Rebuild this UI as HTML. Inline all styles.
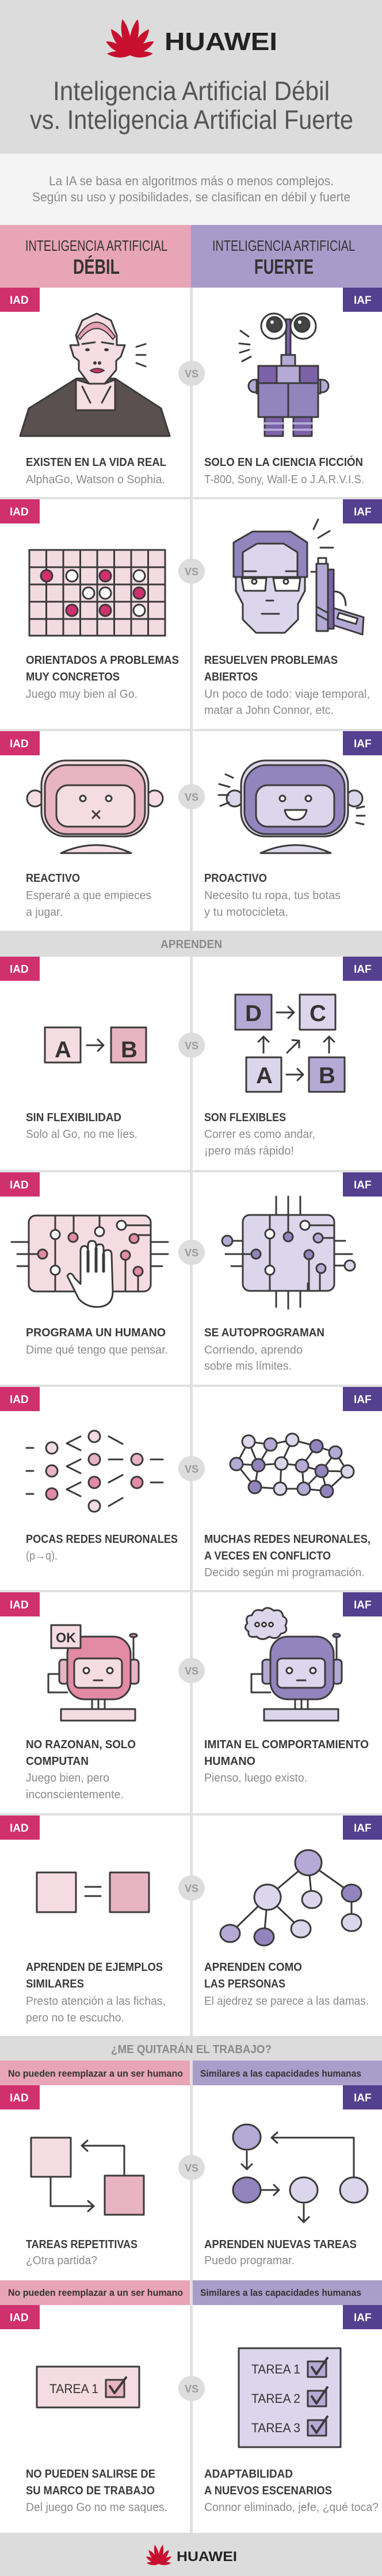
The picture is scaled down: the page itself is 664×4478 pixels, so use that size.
<!DOCTYPE html>
<html><head><meta charset="utf-8"><style>
html,body{margin:0;padding:0;background:#fff}
svg{display:block}
text{font-family:"Liberation Sans",sans-serif}
.t{font-weight:bold;fill:#3a3a3a;font-size:20px}
.s{fill:#8a8a8a;font-size:20px}
.bd{font-weight:bold;fill:#fff;font-size:19px}
.vs{font-weight:bold;fill:#9a9a9a;font-size:18px}
</style></head><body>
<svg width="664" height="4478" viewBox="0 0 664 4478" xmlns="http://www.w3.org/2000/svg">
<defs>
<g id="logo">
<path d="M0,0 C-9,-20 -9,-48 0,-64 C9,-48 9,-20 0,0Z" transform="rotate(-12)" fill="#c8102e"/>
<path d="M0,0 C-9,-20 -9,-48 0,-64 C9,-48 9,-20 0,0Z" transform="rotate(12)" fill="#c8102e"/>
<path d="M0,0 C-9,-18 -9,-42 0,-56 C9,-42 9,-18 0,0Z" transform="rotate(-36)" fill="#c8102e"/>
<path d="M0,0 C-9,-18 -9,-42 0,-56 C9,-42 9,-18 0,0Z" transform="rotate(36)" fill="#c8102e"/>
<path d="M0,0 C-8,-16 -8,-36 0,-48 C8,-36 8,-16 0,0Z" transform="rotate(-60)" fill="#c8102e"/>
<path d="M0,0 C-8,-16 -8,-36 0,-48 C8,-36 8,-16 0,0Z" transform="rotate(60)" fill="#c8102e"/>
<path d="M0,0 C-7,-12 -7,-28 0,-40 C7,-28 7,-12 0,0Z" transform="rotate(-86)" fill="#c8102e"/>
<path d="M0,0 C-7,-12 -7,-28 0,-40 C7,-28 7,-12 0,0Z" transform="rotate(86)" fill="#c8102e"/>
</g>
</defs>

<!-- header -->
<rect x="0" y="0" width="664" height="267" fill="#dcdcdc"/>
<use href="#logo" transform="translate(226,96)"/>
<text x="286" y="87" font-size="44" font-weight="bold" fill="#222" textLength="196" lengthAdjust="spacingAndGlyphs">HUAWEI</text>
<text x="92" y="174" font-size="46" fill="#555" textLength="481" lengthAdjust="spacingAndGlyphs">Inteligencia Artificial Débil</text>
<text x="52" y="224" font-size="46" fill="#555" textLength="562" lengthAdjust="spacingAndGlyphs">vs. Inteligencia Artificial Fuerte</text>
<rect x="0" y="267" width="664" height="124" fill="#f4f4f4"/>
<text x="85" y="322" font-size="22" fill="#8a8a8a" textLength="495" lengthAdjust="spacingAndGlyphs">La IA se basa en algoritmos más o menos complejos.</text>
<text x="56" y="350" font-size="22" fill="#8a8a8a" textLength="553" lengthAdjust="spacingAndGlyphs">Según su uso y posibilidades, se clasifican en débil y fuerte</text>
<rect x="0" y="391" width="332" height="109" fill="#e8a5b5"/>
<rect x="332" y="391" width="332" height="109" fill="#a89bc9"/>
<text x="44" y="436" font-size="26" fill="#333" textLength="247" lengthAdjust="spacingAndGlyphs">INTELIGENCIA ARTIFICIAL</text>
<text x="127" y="476" font-size="36" font-weight="bold" fill="#333" textLength="81" lengthAdjust="spacingAndGlyphs">DÉBIL</text>
<text x="369" y="436" font-size="26" fill="#333" textLength="248" lengthAdjust="spacingAndGlyphs">INTELIGENCIA ARTIFICIAL</text>
<text x="442" y="476" font-size="36" font-weight="bold" fill="#333" textLength="103" lengthAdjust="spacingAndGlyphs">FUERTE</text>

<!-- divider & separators -->
<rect x="330" y="500" width="5" height="3903" fill="#e0e0e0"/>
<g fill="#e0e0e0">
<rect x="0" y="864" width="664" height="4"/>
<rect x="0" y="1267" width="664" height="4"/>
<rect x="0" y="2034" width="664" height="4"/>
<rect x="0" y="2407" width="664" height="4"/>
<rect x="0" y="2764" width="664" height="4"/>
<rect x="0" y="3152" width="664" height="4"/>
</g>

<!-- bars -->
<rect x="0" y="1618" width="664" height="45" fill="#dcdcdc"/>
<text x="279" y="1648" font-size="20" font-weight="bold" fill="#8a8a8a" textLength="107" lengthAdjust="spacingAndGlyphs">APRENDEN</text>
<rect x="0" y="3539" width="664" height="43" fill="#dcdcdc"/>
<text x="193" y="3569" font-size="20" font-weight="bold" fill="#8a8a8a" textLength="279" lengthAdjust="spacingAndGlyphs">¿ME QUITARÁN EL TRABAJO?</text>
<rect x="0" y="3582" width="330" height="43" fill="#e8a5b7"/>
<rect x="335" y="3582" width="329" height="43" fill="#a99dca"/>
<text x="14" y="3610" font-size="17" font-weight="bold" fill="#333" textLength="304" lengthAdjust="spacingAndGlyphs">No pueden reemplazar a un ser humano</text>
<text x="348" y="3610" font-size="17" font-weight="bold" fill="#333" textLength="280" lengthAdjust="spacingAndGlyphs">Similares a las capacidades humanas</text>
<rect x="0" y="3964" width="330" height="43" fill="#e8a5b7"/>
<rect x="335" y="3964" width="329" height="43" fill="#a99dca"/>
<text x="14" y="3991" font-size="17" font-weight="bold" fill="#333" textLength="304" lengthAdjust="spacingAndGlyphs">No pueden reemplazar a un ser humano</text>
<text x="348" y="3991" font-size="17" font-weight="bold" fill="#333" textLength="280" lengthAdjust="spacingAndGlyphs">Similares a las capacidades humanas</text>

<!-- badges -->
<g>
<rect x="0" y="500" width="69" height="42" fill="#d1306e"/><rect x="596" y="500" width="68" height="42" fill="#553f8f"/>
<rect x="0" y="868" width="69" height="42" fill="#d1306e"/><rect x="596" y="868" width="68" height="42" fill="#553f8f"/>
<rect x="0" y="1271" width="69" height="42" fill="#d1306e"/><rect x="596" y="1271" width="68" height="42" fill="#553f8f"/>
<rect x="0" y="1663" width="69" height="42" fill="#d1306e"/><rect x="596" y="1663" width="68" height="42" fill="#553f8f"/>
<rect x="0" y="2038" width="69" height="42" fill="#d1306e"/><rect x="596" y="2038" width="68" height="42" fill="#553f8f"/>
<rect x="0" y="2411" width="69" height="42" fill="#d1306e"/><rect x="596" y="2411" width="68" height="42" fill="#553f8f"/>
<rect x="0" y="2768" width="69" height="42" fill="#d1306e"/><rect x="596" y="2768" width="68" height="42" fill="#553f8f"/>
<rect x="0" y="3156" width="69" height="42" fill="#d1306e"/><rect x="596" y="3156" width="68" height="42" fill="#553f8f"/>
<rect x="0" y="3625" width="69" height="42" fill="#d1306e"/><rect x="596" y="3625" width="68" height="42" fill="#553f8f"/>
<rect x="0" y="4007" width="69" height="42" fill="#d1306e"/><rect x="596" y="4007" width="68" height="42" fill="#553f8f"/>
</g>
<g class="bd">
<text class="bd" x="17" y="528">IAD</text><text class="bd" x="615" y="528">IAF</text>
<text class="bd" x="17" y="896">IAD</text><text class="bd" x="615" y="896">IAF</text>
<text class="bd" x="17" y="1299">IAD</text><text class="bd" x="615" y="1299">IAF</text>
<text class="bd" x="17" y="1691">IAD</text><text class="bd" x="615" y="1691">IAF</text>
<text class="bd" x="17" y="2066">IAD</text><text class="bd" x="615" y="2066">IAF</text>
<text class="bd" x="17" y="2439">IAD</text><text class="bd" x="615" y="2439">IAF</text>
<text class="bd" x="17" y="2796">IAD</text><text class="bd" x="615" y="2796">IAF</text>
<text class="bd" x="17" y="3184">IAD</text><text class="bd" x="615" y="3184">IAF</text>
<text class="bd" x="17" y="3653">IAD</text><text class="bd" x="615" y="3653">IAF</text>
<text class="bd" x="17" y="4035">IAD</text><text class="bd" x="615" y="4035">IAF</text>
</g>

<!-- VS circles -->
<g fill="#dddddd">
<ellipse cx="333" cy="649" rx="23" ry="22"/><ellipse cx="333" cy="993" rx="23" ry="22"/>
<ellipse cx="333" cy="1385" rx="23" ry="22"/><ellipse cx="333" cy="1817" rx="23" ry="22"/>
<ellipse cx="333" cy="2177" rx="23" ry="22"/><ellipse cx="333" cy="2553" rx="23" ry="22"/>
<ellipse cx="333" cy="2904" rx="23" ry="22"/><ellipse cx="333" cy="3282" rx="23" ry="22"/>
<ellipse cx="333" cy="3768" rx="23" ry="22"/><ellipse cx="333" cy="4152" rx="23" ry="22"/>
</g>
<g class="vs" text-anchor="middle">
<text class="vs" x="333" y="656">VS</text><text class="vs" x="333" y="1000">VS</text>
<text class="vs" x="333" y="1392">VS</text><text class="vs" x="333" y="1824">VS</text>
<text class="vs" x="333" y="2184">VS</text><text class="vs" x="333" y="2560">VS</text>
<text class="vs" x="333" y="2911">VS</text><text class="vs" x="333" y="3289">VS</text>
<text class="vs" x="333" y="3775">VS</text><text class="vs" x="333" y="4159">VS</text>
</g>

<!-- row texts -->
<g lengthAdjust="spacingAndGlyphs">
<text class="t" x="45" y="810" textLength="244" lengthAdjust="spacingAndGlyphs">EXISTEN EN LA VIDA REAL</text>
<text class="s" x="45" y="840" textLength="242" lengthAdjust="spacingAndGlyphs">AlphaGo, Watson o Sophia.</text>
<text class="t" x="355" y="810" textLength="276" lengthAdjust="spacingAndGlyphs">SOLO EN LA CIENCIA FICCIÓN</text>
<text class="s" x="355" y="840" textLength="278" lengthAdjust="spacingAndGlyphs">T-800, Sony, Wall-E o J.A.R.V.I.S.</text>

<text class="t" x="45" y="1154" textLength="266" lengthAdjust="spacingAndGlyphs">ORIENTADOS A PROBLEMAS</text>
<text class="t" x="45" y="1183" textLength="163" lengthAdjust="spacingAndGlyphs">MUY CONCRETOS</text>
<text class="s" x="45" y="1213" textLength="194" lengthAdjust="spacingAndGlyphs">Juego muy bien al Go.</text>
<text class="t" x="355" y="1154" textLength="232" lengthAdjust="spacingAndGlyphs">RESUELVEN PROBLEMAS</text>
<text class="t" x="355" y="1183" textLength="93" lengthAdjust="spacingAndGlyphs">ABIERTOS</text>
<text class="s" x="355" y="1213" textLength="288" lengthAdjust="spacingAndGlyphs">Un poco de todo: viaje temporal,</text>
<text class="s" x="355" y="1241" textLength="225" lengthAdjust="spacingAndGlyphs">matar a John Connor, etc.</text>

<text class="t" x="45" y="1533" textLength="94" lengthAdjust="spacingAndGlyphs">REACTIVO</text>
<text class="s" x="45" y="1563" textLength="218" lengthAdjust="spacingAndGlyphs">Esperaré a que empieces</text>
<text class="s" x="45" y="1592" textLength="64" lengthAdjust="spacingAndGlyphs">a jugar.</text>
<text class="t" x="355" y="1533" textLength="109" lengthAdjust="spacingAndGlyphs">PROACTIVO</text>
<text class="s" x="355" y="1563" textLength="237" lengthAdjust="spacingAndGlyphs">Necesito tu ropa, tus botas</text>
<text class="s" x="355" y="1592" textLength="146" lengthAdjust="spacingAndGlyphs">y tu motocicleta.</text>

<text class="t" x="45" y="1949" textLength="166" lengthAdjust="spacingAndGlyphs">SIN FLEXIBILIDAD</text>
<text class="s" x="45" y="1978" textLength="194" lengthAdjust="spacingAndGlyphs">Solo al Go, no me líes.</text>
<text class="t" x="355" y="1949" textLength="142" lengthAdjust="spacingAndGlyphs">SON FLEXIBLES</text>
<text class="s" x="355" y="1978" textLength="193" lengthAdjust="spacingAndGlyphs">Correr es como andar,</text>
<text class="s" x="355" y="2007" textLength="156" lengthAdjust="spacingAndGlyphs">¡pero más rápido!</text>

<text class="t" x="45" y="2323" textLength="243" lengthAdjust="spacingAndGlyphs">PROGRAMA UN HUMANO</text>
<text class="s" x="45" y="2353" textLength="247" lengthAdjust="spacingAndGlyphs">Dime qué tengo que pensar.</text>
<text class="t" x="355" y="2323" textLength="209" lengthAdjust="spacingAndGlyphs">SE AUTOPROGRAMAN</text>
<text class="s" x="355" y="2353" textLength="171" lengthAdjust="spacingAndGlyphs">Corriendo, aprendo</text>
<text class="s" x="355" y="2381" textLength="152" lengthAdjust="spacingAndGlyphs">sobre mis límites.</text>

<text class="t" x="45" y="2682" textLength="264" lengthAdjust="spacingAndGlyphs">POCAS REDES NEURONALES</text>
<text class="s" x="45" y="2711" textLength="55" lengthAdjust="spacingAndGlyphs">(p→q).</text>
<text class="t" x="355" y="2682" textLength="289" lengthAdjust="spacingAndGlyphs">MUCHAS REDES NEURONALES,</text>
<text class="t" x="355" y="2711" textLength="220" lengthAdjust="spacingAndGlyphs">A VECES EN CONFLICTO</text>
<text class="s" x="355" y="2740" textLength="279" lengthAdjust="spacingAndGlyphs">Decido según mi programación.</text>

<text class="t" x="45" y="3039" textLength="191" lengthAdjust="spacingAndGlyphs">NO RAZONAN, SOLO</text>
<text class="t" x="45" y="3068" textLength="109" lengthAdjust="spacingAndGlyphs">COMPUTAN</text>
<text class="s" x="45" y="3097" textLength="145" lengthAdjust="spacingAndGlyphs">Juego bien, pero</text>
<text class="s" x="45" y="3126" textLength="170" lengthAdjust="spacingAndGlyphs">inconscientemente.</text>
<text class="t" x="355" y="3039" textLength="286" lengthAdjust="spacingAndGlyphs">IMITAN EL COMPORTAMIENTO</text>
<text class="t" x="355" y="3068" textLength="89" lengthAdjust="spacingAndGlyphs">HUMANO</text>
<text class="s" x="355" y="3097" textLength="179" lengthAdjust="spacingAndGlyphs">Pienso, luego existo.</text>

<text class="t" x="45" y="3426" textLength="238" lengthAdjust="spacingAndGlyphs">APRENDEN DE EJEMPLOS</text>
<text class="t" x="45" y="3455" textLength="101" lengthAdjust="spacingAndGlyphs">SIMILARES</text>
<text class="s" x="45" y="3485" textLength="243" lengthAdjust="spacingAndGlyphs">Presto atención a las fichas,</text>
<text class="s" x="45" y="3514" textLength="171" lengthAdjust="spacingAndGlyphs">pero no te escucho.</text>
<text class="t" x="355" y="3426" textLength="170" lengthAdjust="spacingAndGlyphs">APRENDEN COMO</text>
<text class="t" x="355" y="3455" textLength="141" lengthAdjust="spacingAndGlyphs">LAS PERSONAS</text>
<text class="s" x="355" y="3485" textLength="286" lengthAdjust="spacingAndGlyphs">El ajedrez se parece a las damas.</text>

<text class="t" x="45" y="3908" textLength="194" lengthAdjust="spacingAndGlyphs">TAREAS REPETITIVAS</text>
<text class="s" x="45" y="3936" textLength="124" lengthAdjust="spacingAndGlyphs">¿Otra partida?</text>
<text class="t" x="355" y="3908" textLength="265" lengthAdjust="spacingAndGlyphs">APRENDEN NUEVAS TAREAS</text>
<text class="s" x="355" y="3936" textLength="157" lengthAdjust="spacingAndGlyphs">Puedo programar.</text>

<text class="t" x="45" y="4307" textLength="225" lengthAdjust="spacingAndGlyphs">NO PUEDEN SALIRSE DE</text>
<text class="t" x="45" y="4336" textLength="224" lengthAdjust="spacingAndGlyphs">SU MARCO DE TRABAJO</text>
<text class="s" x="45" y="4365" textLength="246" lengthAdjust="spacingAndGlyphs">Del juego Go no me saques.</text>
<text class="t" x="355" y="4307" textLength="154" lengthAdjust="spacingAndGlyphs">ADAPTABILIDAD</text>
<text class="t" x="355" y="4336" textLength="222" lengthAdjust="spacingAndGlyphs">A NUEVOS ESCENARIOS</text>
<text class="s" x="355" y="4365" textLength="303" lengthAdjust="spacingAndGlyphs">Connor eliminado, jefe, ¿qué toca?</text>
</g>

<g stroke="#3a3a3a" stroke-width="3" stroke-linejoin="round" stroke-linecap="round">
<!-- ROW1 woman -->
<path d="M35,758 L50,710 L133,658 L200,658 L280,710 L295,758 Z" fill="#5a5050"/>
<path d="M132,660 L155,667 L182,667 L200,660 L200,713 L132,713 Z" fill="#f5dde3"/>
<path d="M143,672 L157,700 M192,672 L177,700" fill="none"/>
<path d="M132,583 L143,557 L168,545 L193,557 L203,583 L203,600 L217,600 L210,620 L202,627 L202,643 L182,667 L155,667 L137,643 L137,627 L128,620 L122,600 L137,600 L132,583 Z" fill="#f5dde3"/>
<path d="M135,585 Q168,535 200,585 L196,590 Q168,552 139,590 Z" fill="#e8a0b4" stroke-width="2"/>
<path d="M143,598 L165,595 M177,595 L197,598" fill="none"/>
<ellipse cx="152" cy="608" rx="4" ry="2.5" fill="#333" stroke="none"/><ellipse cx="185" cy="608" rx="4" ry="2.5" fill="#333" stroke="none"/>
<circle cx="165" cy="631" r="1.5" fill="#333"/><circle cx="173" cy="631" r="1.5" fill="#333"/>
<path d="M157,644 Q169,637 181,644 Q169,652 157,644Z" fill="#d1306e" stroke-width="2"/>
<path d="M237,603 L253,598 M237,617 L253,617 M237,631 L253,637" fill="none"/>

<!-- ROW1 Wall-E -->
<path d="M418,575 L432,585 M416,597 L434,599 M417,613 L433,608 M421,628 L436,620" fill="none"/>
<rect x="497" y="555" width="8" height="65" fill="#7b62a8"/>
<circle cx="476" cy="567" r="22" fill="#fff"/><circle cx="527" cy="567" r="22" fill="#fff"/>
<circle cx="477" cy="564" r="13" fill="#444"/><circle cx="525" cy="564" r="13" fill="#444"/>
<circle cx="473" cy="560" r="3" fill="#fff" stroke="none"/><circle cx="521" cy="560" r="3" fill="#fff" stroke="none"/>
<rect x="489" y="617" width="24" height="19" fill="#b5a9d6"/>
<circle cx="443" cy="671" r="11" fill="#b5a9d6"/><circle cx="560" cy="671" r="11" fill="#b5a9d6"/>
<rect x="446" y="660" width="24" height="24" fill="#b5a9d6"/><rect x="533" y="660" width="24" height="24" fill="#b5a9d6"/>
<rect x="449" y="636" width="104" height="89" fill="#9285bd"/>
<rect x="449" y="636" width="32" height="30" fill="#7b62a8"/><rect x="481" y="636" width="40" height="30" fill="#b5a9d6"/><rect x="521" y="636" width="32" height="30" fill="#7b62a8"/>
<line x1="501" y1="666" x2="501" y2="725"/>
<rect x="460" y="725" width="32" height="33" fill="#7b62a8"/><rect x="510" y="725" width="32" height="33" fill="#7b62a8"/>
<path d="M460,736 H492 M460,747 H492 M510,736 H542 M510,747 H542" stroke="#b5a9d6" stroke-width="4"/>

<!-- ROW2 go board -->
<rect x="51" y="956" width="236" height="149" fill="#f3dbe2"/>
<path d="M80.5,956 V1105 M110,956 V1105 M139.5,956 V1105 M169,956 V1105 M198.5,956 V1105 M228,956 V1105 M257.5,956 V1105 M51,986 H287 M51,1016 H287 M51,1046 H287 M51,1076 H287" fill="none"/>
<circle cx="81" cy="1001" r="10" fill="#d1306e"/><circle cx="125" cy="1001" r="10" fill="#fff"/><circle cx="183" cy="1001" r="10" fill="#d1306e"/><circle cx="242" cy="1001" r="10" fill="#fff"/>
<circle cx="154" cy="1031" r="10" fill="#fff"/><circle cx="183" cy="1031" r="10" fill="#fff"/><circle cx="242" cy="1031" r="10" fill="#d1306e"/>
<circle cx="125" cy="1061" r="10" fill="#d1306e"/><circle cx="183" cy="1061" r="10" fill="#d1306e"/><circle cx="242" cy="1061" r="10" fill="#fff"/>

<!-- ROW2 terminator -->
<path d="M406,943 L439,924 L505,924 L534,943 L534,1003 L530,1003 L530,1027 L518,1050 L518,1077 L495,1100 L445,1100 L422,1077 L422,1050 L410,1027 L410,1003 L406,1003 Z" fill="#dcd6ec"/>
<path d="M406,943 L439,924 L505,924 L534,943 L534,1003 L517,1003 L517,960 L493,945 L447,945 L422,960 L422,1003 L406,1003 Z" fill="#9285bd"/>
<line x1="406" y1="1003" x2="534" y2="1003"/>
<path d="M420,1005 L463,1005 L461,1027 L424,1027 Z M475,1005 L522,1005 L519,1027 L479,1027 Z" fill="#fff"/>
<circle cx="442" cy="1011" r="4" fill="#fff"/><circle cx="497" cy="1011" r="4" fill="#fff"/>
<path d="M425,993 L445,993 M497,993 L517,993 M463,1044 L475,1044 M455,1067 L485,1067 M545,920 L553,903 M553,935 L573,923 M557,952 L579,952 M541,994 L550,994" fill="none"/>
<path d="M580,1028 Q600,1028 601,1052" fill="none"/>
<rect x="553" y="970" width="14" height="10" fill="#fff"/>
<rect x="570" y="990" width="10" height="103" fill="#7b62a8"/>
<path d="M580,1057 L632,1073 L630,1103 L580,1087 Z" fill="#b5a9d6"/>
<rect x="587" y="1070" width="34" height="10" fill="#fff" transform="rotate(17 604 1075)"/>
<rect x="550" y="980" width="20" height="117" fill="#b5a9d6"/>
<path d="M551,1055 L569,1065 M551,1068 L569,1078" fill="none"/>

<!-- ROW3 robots -->
<circle cx="61" cy="1388" r="14" fill="#f5dce3"/><circle cx="269" cy="1388" r="14" fill="#f5dce3"/>
<rect x="72" y="1322" width="186" height="132" rx="42" fill="#f5dce3"/>
<rect x="78" y="1330" width="174" height="120" rx="38" fill="#e8b3c2"/>
<rect x="98" y="1365" width="136" height="72" rx="20" fill="#f5dce3"/>
<circle cx="144" cy="1388" r="5" fill="#fff"/><circle cx="189" cy="1388" r="5" fill="#fff"/>
<path d="M161,1410 L173,1422 M173,1410 L161,1422" fill="none"/>
<path d="M106,1483 Q167,1455 228,1483 Z" fill="#f5dce3"/>
<circle cx="408" cy="1388" r="14" fill="#dcd6ec"/><circle cx="616" cy="1388" r="14" fill="#dcd6ec"/>
<rect x="419" y="1322" width="186" height="132" rx="42" fill="#dcd6ec"/>
<rect x="425" y="1330" width="174" height="120" rx="38" fill="#9285bd"/>
<rect x="445" y="1365" width="136" height="72" rx="20" fill="#dcd6ec"/>
<circle cx="491" cy="1388" r="5" fill="#fff"/><circle cx="536" cy="1388" r="5" fill="#fff"/>
<path d="M495,1408 L533,1408 Q530,1425 514,1425 Q498,1425 495,1408 Z" fill="#fff"/>
<path d="M453,1483 Q514,1455 575,1483 Z" fill="#dcd6ec"/>
<path d="M392,1346 L405,1352 M381,1363 L399,1368 M380,1382 L397,1382 M383,1401 L398,1395 M620,1405 L633,1402 M620,1418 L634,1418 M619,1430 L632,1433" fill="none"/>

<!-- ROW4 letters -->
<rect x="78" y="1786" width="62" height="61" fill="#f5dce3"/><rect x="193" y="1786" width="61" height="61" fill="#e8b3c2"/>
<path d="M151,1817 H180 M170,1807 L180,1817 L170,1827" fill="none"/>
<rect x="409" y="1729" width="63" height="61" fill="#b5a9d6"/><rect x="521" y="1729" width="62" height="61" fill="#dcd6ec"/>
<rect x="428" y="1838" width="61" height="60" fill="#dcd6ec"/><rect x="537" y="1838" width="62" height="60" fill="#b5a9d6"/>
<path d="M481,1760 H511 M501,1750 L511,1760 L501,1770 M498,1868 H527 M517,1858 L527,1868 L517,1878 M458,1830 V1802 M449,1811 L458,1802 L467,1811 M572,1830 V1802 M563,1811 L572,1802 L581,1811 M499,1830 L520,1809 M508,1808 L520,1809 L520,1821" fill="none"/>

<!-- ROW5 chips -->
<path d="M20,2159 H50 M30,2180 H50 M30,2201 H50 M262,2159 H292 M262,2180 H292 M262,2201 H282" fill="none"/>
<rect x="50" y="2113" width="212" height="132" rx="12" fill="#f5dce3"/>
<path d="M96,2113 V2245 M128,2113 V2142 M173,2113 V2135 M50,2180 H66 M218,2190 V2245 M240,2210 V2245 M228,2147 H262 M220,2130 H262" fill="none"/>
<circle cx="96" cy="2146" r="8" fill="#fff"/><circle cx="96" cy="2208" r="8" fill="#fff"/><circle cx="127" cy="2151" r="8" fill="#e38aa5"/>
<circle cx="173" cy="2141" r="8" fill="#fff"/><circle cx="74" cy="2180" r="8" fill="#e38aa5"/><circle cx="218" cy="2182" r="8" fill="#e38aa5"/>
<circle cx="211" cy="2130" r="8" fill="#fff"/><circle cx="233" cy="2153" r="8" fill="#e38aa5"/><circle cx="240" cy="2210" r="8" fill="#e38aa5"/>
<path d="M117,2218 Q123,2208 130,2222 L140,2232 L140,2175 Q140,2166 147,2166 Q153,2166 153,2175 L153,2165 Q153,2157 160,2157 Q167,2157 167,2165 L167,2170 Q167,2163 173,2163 Q180,2163 180,2170 L180,2180 Q180,2173 187,2173 Q194,2173 194,2181 L196,2245 Q196,2272 168,2272 Q150,2272 137,2258 Z" fill="#fff"/>
<path d="M153,2175 V2210 M167,2170 V2210 M180,2180 V2210" stroke-width="5"/>
<path d="M480,2080 V2112 M501,2080 V2112 M522,2080 V2112 M480,2244 V2272 M501,2244 V2275 M522,2244 V2272 M404,2157 H422 M392,2180 H422 M402,2201 H422 M581,2157 H600 M581,2180 H612 M581,2200 H598" fill="none"/>
<circle cx="395" cy="2157" r="9" fill="#b5a9d6"/><circle cx="608" cy="2200" r="9" fill="#dcd6ec"/>
<rect x="422" y="2112" width="159" height="132" rx="12" fill="#dcd6ec"/>
<path d="M469,2112 V2244 M535,2231 V2244 M556,2213 V2244 M422,2180 H437 M537,2130 H581 M553,2152 H581" fill="none"/>
<circle cx="469" cy="2145" r="8" fill="#fff"/><circle cx="469" cy="2208" r="8" fill="#fff"/><circle cx="501" cy="2150" r="8" fill="#9384bd"/>
<circle cx="445" cy="2180" r="8" fill="#9384bd"/><circle cx="530" cy="2130" r="8" fill="#fff"/><circle cx="553" cy="2152" r="8" fill="#b5a9d6"/>
<circle cx="537" cy="2181" r="8" fill="#9384bd"/><circle cx="558" cy="2205" r="8" fill="#b5a9d6"/>
<path d="M501,2080 V2141" fill="none"/><path d="M537,2189 V2244" fill="none"/>

<!-- ROW6 nets -->
<path d="M46,2517 H58 M46,2557 H58 M46,2597 H58 M116,2509 L140,2497 M116,2509 L140,2521 M116,2549 L140,2537 M116,2549 L140,2561 M116,2589 L140,2577 M116,2589 L140,2601 M189,2497 L213,2510 M189,2537 H213 M189,2577 L213,2564 M189,2618 L213,2604 M262,2537 H283 M262,2577 H283" fill="none"/>
<circle cx="90" cy="2517" r="10" fill="#f5dce3"/><circle cx="90" cy="2557" r="10" fill="#e8b3c2"/><circle cx="90" cy="2597" r="10" fill="#e38aa5"/>
<circle cx="164" cy="2497" r="10" fill="#f5dce3"/><circle cx="164" cy="2537" r="10" fill="#e8b3c2"/><circle cx="164" cy="2577" r="10" fill="#e38aa5"/><circle cx="164" cy="2618" r="10" fill="#f5dce3"/>
<circle cx="238" cy="2537" r="10" fill="#e8b3c2"/><circle cx="238" cy="2577" r="10" fill="#e38aa5"/>
<path d="M432,2506 L470,2511 L508,2503 L550,2514 L583,2525 L604,2558 L568,2592 L528,2588 L487,2588 L443,2585 L411,2545 L432,2506 M432,2506 L449,2547 L470,2511 M411,2545 L449,2547 L489,2544 L525,2548 L559,2557 L604,2558 M449,2547 L443,2585 M489,2544 L508,2503 M489,2544 L487,2588 M525,2548 L550,2514 M525,2548 L528,2588 M559,2557 L583,2525 M559,2557 L568,2592 M559,2557 L528,2588" fill="none"/>
<g fill="#b5a9d6">
<circle cx="432" cy="2506" r="11" fill="#dcd6ec"/><circle cx="470" cy="2511" r="11"/><circle cx="508" cy="2503" r="11" fill="#dcd6ec"/>
<circle cx="550" cy="2514" r="11" fill="#9384bd"/><circle cx="583" cy="2525" r="11"/><circle cx="411" cy="2545" r="11"/>
<circle cx="449" cy="2547" r="11" fill="#9384bd"/><circle cx="489" cy="2544" r="11" fill="#dcd6ec"/><circle cx="525" cy="2548" r="11"/>
<circle cx="559" cy="2557" r="11" fill="#9384bd"/><circle cx="604" cy="2558" r="11" fill="#dcd6ec"/><circle cx="443" cy="2585" r="11" fill="#9384bd"/>
<circle cx="487" cy="2588" r="11" fill="#dcd6ec"/><circle cx="528" cy="2588" r="11"/><circle cx="568" cy="2592" r="11" fill="#9384bd"/>
</g>

<!-- ROW7 robots -->
<path d="M103,2910 H84 V2942 H117" fill="none"/>
<line x1="232" y1="2845" x2="232" y2="2890"/><ellipse cx="232" cy="2843" rx="6" ry="3" fill="#e38aa5"/>
<rect x="103" y="2885" width="16" height="42" rx="6" fill="#e8b3c2"/><rect x="225" y="2885" width="16" height="42" rx="6" fill="#e8b3c2"/>
<rect x="117" y="2845" width="110" height="109" rx="30" fill="#e38aa5"/>
<rect x="129" y="2883" width="83" height="51" rx="8" fill="#f5dce3"/>
<circle cx="150" cy="2904" r="5" fill="#fff"/><circle cx="191" cy="2904" r="5" fill="#fff"/><line x1="163" y1="2921" x2="178" y2="2921"/>
<rect x="160" y="2954" width="22" height="17" fill="#fff"/><line x1="171" y1="2954" x2="171" y2="2971"/>
<rect x="106" y="2971" width="129" height="20" fill="#f5dce3"/>
<rect x="89" y="2825" width="51" height="40" fill="#f5dce3"/>
<text x="97" y="2855" font-size="24" font-weight="bold" fill="#333" stroke="none" textLength="35" lengthAdjust="spacingAndGlyphs">OK</text>
<path d="M456,2910 H437 V2942 H470" fill="none"/>
<line x1="585" y1="2845" x2="585" y2="2890"/><ellipse cx="585" cy="2843" rx="6" ry="3" fill="#9384bd"/>
<rect x="456" y="2885" width="16" height="42" rx="6" fill="#b5a9d6"/><rect x="578" y="2885" width="16" height="42" rx="6" fill="#b5a9d6"/>
<rect x="470" y="2845" width="110" height="109" rx="30" fill="#9384bd"/>
<rect x="482" y="2883" width="83" height="51" rx="8" fill="#dcd6ec"/>
<circle cx="503" cy="2904" r="5" fill="#fff"/><circle cx="544" cy="2904" r="5" fill="#fff"/><line x1="516" y1="2921" x2="531" y2="2921"/>
<rect x="513" y="2954" width="22" height="17" fill="#fff"/><line x1="524" y1="2954" x2="524" y2="2971"/>
<rect x="459" y="2971" width="129" height="20" fill="#dcd6ec"/>
<path d="M430,2822 Q425,2808 438,2808 Q442,2795 456,2800 Q464,2790 476,2800 Q490,2796 492,2810 Q502,2814 496,2826 Q502,2838 488,2840 Q482,2852 468,2845 Q456,2854 446,2845 Q430,2848 432,2836 Q422,2830 430,2822 Z" fill="#dcd6ec"/>
<circle cx="447" cy="2824" r="3.5" fill="#fff"/><circle cx="459" cy="2824" r="3.5" fill="#fff"/><circle cx="471" cy="2824" r="3.5" fill="#fff"/>

<!-- ROW8 -->
<rect x="64" y="3255" width="68" height="69" fill="#f5dce3"/><rect x="191" y="3255" width="68" height="69" fill="#e8b3c2"/>
<path d="M148,3280 H175 M148,3296 H175" fill="none"/>
<path d="M536,3238 L465,3298 M536,3238 L542,3302 M536,3238 L611,3291 M611,3291 L611,3342 M465,3298 L400,3361 M465,3298 L459,3367 M465,3298 L523,3353" fill="none"/>
<ellipse cx="536" cy="3238" rx="23" ry="22" fill="#b5a9d6"/><ellipse cx="465" cy="3298" rx="23" ry="22" fill="#dcd6ec"/>
<ellipse cx="542" cy="3302" rx="17" ry="15" fill="#dcd6ec"/><ellipse cx="611" cy="3291" rx="17" ry="15" fill="#9384bd"/>
<ellipse cx="400" cy="3361" rx="17" ry="15" fill="#b5a9d6"/><ellipse cx="459" cy="3367" rx="17" ry="15" fill="#9384bd"/>
<ellipse cx="523" cy="3353" rx="17" ry="15" fill="#dcd6ec"/><ellipse cx="611" cy="3342" rx="17" ry="15" fill="#dcd6ec"/>

<!-- ROW9 -->
<rect x="54" y="3716" width="69" height="68" fill="#f5dce3"/><rect x="182" y="3782" width="68" height="68" fill="#e8b3c2"/>
<path d="M216,3782 V3730 H142 M152,3721 L142,3730 L152,3739 M88,3784 V3835 H163 M153,3826 L163,3835 L153,3844" fill="none"/>
<path d="M615,3785 V3716 H472 M482,3707 L472,3716 L482,3725 M429,3740 V3771 M420,3762 L429,3771 L438,3762 M453,3807 H485 M476,3798 L485,3807 L476,3816 M528,3832 V3863 M519,3854 L528,3863 L537,3854" fill="none"/>
<ellipse cx="429" cy="3715" rx="24" ry="22" fill="#b5a9d6"/><ellipse cx="429" cy="3807" rx="24" ry="22" fill="#9384bd"/>
<ellipse cx="528" cy="3807" rx="24" ry="22" fill="#dcd6ec"/><ellipse cx="615" cy="3807" rx="24" ry="22" fill="#dcd6ec"/>

<!-- ROW10 -->
<rect x="64" y="4114" width="178" height="71" fill="#f5dce3"/>
<rect x="184" y="4137" width="32" height="30" fill="#e8b3c2"/>
<path d="M191,4148 L199,4160 L219,4133" fill="none" stroke-width="4"/>
<rect x="415" y="4082" width="177" height="172" fill="#dcd6ec"/>
<rect x="535" y="4105" width="32" height="27" fill="#b5a9d6"/><rect x="535" y="4156" width="32" height="27" fill="#b5a9d6"/><rect x="535" y="4207" width="32" height="27" fill="#b5a9d6"/>
<path d="M542,4115 L550,4127 L569,4099 M542,4166 L550,4178 L569,4150 M542,4217 L550,4229 L569,4201" fill="none" stroke-width="4"/>
</g>
<g font-weight="bold" fill="#333">
<text x="95" y="1838" font-size="40">A</text><text x="210" y="1838" font-size="40">B</text>
<text x="426" y="1775" font-size="40">D</text><text x="538" y="1775" font-size="40">C</text>
<text x="445" y="1883" font-size="40">A</text><text x="554" y="1883" font-size="40">B</text>
</g>
<g fill="#333">
<text x="86" y="4160" font-size="22" textLength="85" lengthAdjust="spacingAndGlyphs">TAREA 1</text>
<text x="437" y="4126" font-size="22" textLength="85" lengthAdjust="spacingAndGlyphs">TAREA 1</text>
<text x="437" y="4177" font-size="22" textLength="85" lengthAdjust="spacingAndGlyphs">TAREA 2</text>
<text x="437" y="4228" font-size="22" textLength="85" lengthAdjust="spacingAndGlyphs">TAREA 3</text>
</g>

<!-- footer -->
<rect x="0" y="4403" width="664" height="75" fill="#dcdcdc"/>
<use href="#logo" transform="translate(276,4457) scale(0.53)"/>
<text x="307" y="4452" font-size="24" font-weight="bold" fill="#222" textLength="105" lengthAdjust="spacingAndGlyphs">HUAWEI</text>
</svg>
</body></html>
